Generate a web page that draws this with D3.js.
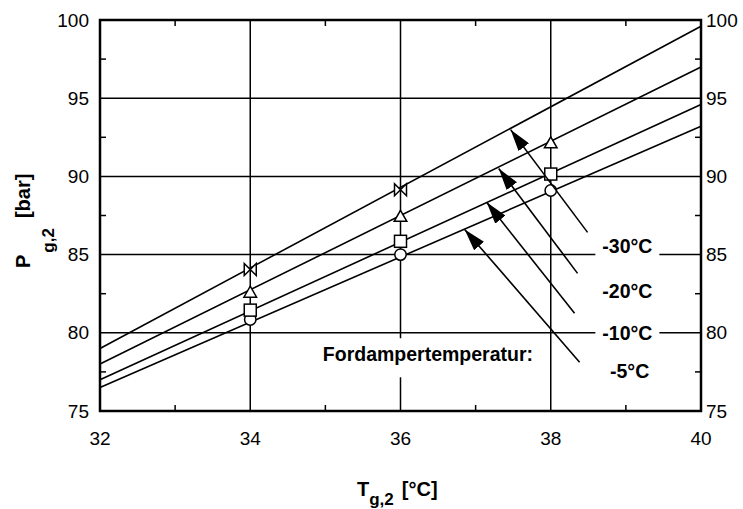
<!DOCTYPE html>
<html>
<head>
<meta charset="utf-8">
<script src="https://cdn.jsdelivr.net/npm/d3@7"></script>
<style>
  html, body { margin: 0; padding: 0; background: #fff; }
  svg { display: block; font-family: "Liberation Sans", Arial, sans-serif; }
</style>
</head>
<body>
<svg id="chart" width="743" height="509"></svg>
<script>
// ---------------- data ----------------
const lineX = [32, 40];
const seriesNames = ["-30°C", "-20°C", "-10°C", "-5°C"];
const lineM30 = [79.0, 99.6];
const lineM20 = [78.0, 97.0];
const lineM10 = [77.0, 94.6];
const lineM5  = [76.5, 93.2];

const markX = [34, 36, 38];
const bowtieY   = [84.05, 89.15, null];
const triangleY = [82.6, 87.45, 92.15];
const squareY   = [81.45, 85.85, 90.15];
const circleY   = [80.85, 85.0, 89.1];

// arrows: start and tip in data units
const arrowStartX = [38.49, 38.357, 38.317, 38.384];
const arrowStartY = [86.42, 83.80, 81.25, 78.12];
const arrowTipX   = [37.466, 37.307, 37.147, 36.854];
const arrowTipY   = [92.99, 90.50, 88.34, 86.61];
// label anchor (center x, baseline y) in data units
const labelX = [39.02, 39.02, 39.02, 39.05];
const labelY = [85.10, 82.20, 79.52, 77.10];

const noteText = "Fordampertemperatur:";
const noteX = 34.966, noteY = 78.18;

const xTicks = [32, 34, 36, 38, 40];
const xMinor = [33, 35, 37, 39];
const yTicks = [75, 80, 85, 90, 95, 100];
const yMinor = [77.5, 82.5, 87.5, 92.5, 97.5];
const xGrid = [34, 36, 38];
const yGrid = [80, 85, 90, 95];

// ---------------- layout ----------------
const svg = d3.select("#chart");
const W = 743, H = 509;
const m = {left: 100, right: 42, top: 20, bottom: 98};
const x = d3.scaleLinear().domain([32, 40]).range([m.left, W - m.right]);
const y = d3.scaleLinear().domain([75, 100]).range([H - m.bottom, m.top]);
const x0 = x.range()[0], x1 = x.range()[1], y0 = y.range()[0], y1 = y.range()[1];

// grid
const grid = svg.append("g").attr("stroke", "#000").attr("stroke-width", 1.5);
grid.selectAll("line.gx").data(xGrid).join("line")
  .attr("x1", d => x(d)).attr("x2", d => x(d)).attr("y1", y0).attr("y2", y1);
grid.selectAll("line.gy").data(yGrid).join("line")
  .attr("y1", d => y(d)).attr("y2", d => y(d)).attr("x1", x0).attr("x2", x1);

// minor ticks
const tl = 6;
const mt = svg.append("g").attr("stroke", "#000").attr("stroke-width", 1.5);
xMinor.forEach(v => {
  mt.append("line").attr("x1", x(v)).attr("x2", x(v)).attr("y1", y0).attr("y2", y0 - tl);
  mt.append("line").attr("x1", x(v)).attr("x2", x(v)).attr("y1", y1).attr("y2", y1 + tl);
});
yMinor.forEach(v => {
  mt.append("line").attr("y1", y(v)).attr("y2", y(v)).attr("x1", x0).attr("x2", x0 + tl);
  mt.append("line").attr("y1", y(v)).attr("y2", y(v)).attr("x1", x1).attr("x2", x1 - tl);
});

// data lines
const series = [lineM30, lineM20, lineM10, lineM5];
const lineGen = d3.line().x((d, i) => x(lineX[i])).y(d => y(d));
svg.append("g").selectAll("path").data(series).join("path")
  .attr("d", d => lineGen(d)).attr("fill", "none").attr("stroke", "#000").attr("stroke-width", 1.6);

// markers
const mk = svg.append("g").attr("stroke", "#000").attr("stroke-width", 1.5).attr("fill", "#fff");
markX.forEach((xv, i) => {
  if (circleY[i] != null) mk.append("circle").attr("cx", x(xv)).attr("cy", y(circleY[i])).attr("r", 5.7);
});
markX.forEach((xv, i) => {
  if (squareY[i] != null) mk.append("rect").attr("x", x(xv) - 6).attr("y", y(squareY[i]) - 6).attr("width", 12).attr("height", 12);
});
markX.forEach((xv, i) => {
  if (triangleY[i] != null) {
    const cx = x(xv), cy = y(triangleY[i]);
    mk.append("path").attr("d", `M${cx},${cy - 6}L${cx + 6.3},${cy + 5}L${cx - 6.3},${cy + 5}Z`);
  }
});
markX.forEach((xv, i) => {
  if (bowtieY[i] != null) {
    const cx = x(xv), cy = y(bowtieY[i]);
    mk.append("path").attr("d", `M${cx - 6},${cy - 6}L${cx},${cy}L${cx - 6},${cy + 6}Z M${cx + 6},${cy - 6}L${cx},${cy}L${cx + 6},${cy + 6}Z`);
  }
});

// arrows
svg.append("defs").append("marker")
  .attr("id", "ah").attr("viewBox", "0 0 22 13").attr("refX", 22).attr("refY", 6.5)
  .attr("markerWidth", 22).attr("markerHeight", 13).attr("markerUnits", "userSpaceOnUse")
  .attr("orient", "auto")
  .append("path").attr("d", "M0,0L22,6.5L0,13Z").attr("fill", "#000");
const ag = svg.append("g");
arrowStartX.forEach((v, i) => {
  ag.append("line")
    .attr("x1", x(v)).attr("y1", y(arrowStartY[i]))
    .attr("x2", x(arrowTipX[i])).attr("y2", y(arrowTipY[i]))
    .attr("stroke", "#000").attr("stroke-width", 1.6).attr("marker-end", "url(#ah)");
});

// labels with white background
const lg = svg.append("g");
seriesNames.forEach((t, i) => {
  const cx = x(labelX[i]), by = y(labelY[i]);
  lg.append("rect").attr("x", cx - 32).attr("y", by - 17).attr("width", 64).attr("height", 22).attr("fill", "#fff");
  lg.append("text").attr("x", cx).attr("y", by).attr("text-anchor", "middle")
    .attr("font-size", 19.5).attr("font-weight", "bold").text(t);
});
{
  const tx = x(noteX), ty = y(noteY);
  const t = svg.append("text").attr("x", tx).attr("y", ty).attr("font-size", 19.5).attr("font-weight", "bold").text(noteText);
  const bb = t.node().getBBox();
  svg.insert("rect", () => t.node()).attr("x", bb.x - 4).attr("y", ty - 23).attr("width", bb.width + 8).attr("height", 39).attr("fill", "#fff");
}

// frame
svg.append("rect").attr("x", x0).attr("y", y1).attr("width", x1 - x0).attr("height", y0 - y1)
  .attr("fill", "none").attr("stroke", "#000").attr("stroke-width", 2.5);

// tick labels
const tg = svg.append("g").attr("font-size", 19).attr("fill", "#000");
yTicks.forEach(v => {
  tg.append("text").attr("x", x0 - 11).attr("y", y(v)).attr("dy", "0.35em").attr("text-anchor", "end").text(v);
  tg.append("text").attr("x", x1 + 5).attr("y", y(v)).attr("dy", "0.35em").attr("text-anchor", "start").text(v);
});
xTicks.forEach(v => {
  tg.append("text").attr("x", x(v)).attr("y", 445).attr("text-anchor", "middle").text(v);
});

// axis titles
const xt = svg.append("text").attr("x", 357).attr("y", 496).attr("font-weight", "bold").attr("font-size", 20);
xt.append("tspan").text("T");
xt.append("tspan").attr("font-size", 17).attr("dy", 9).text("g,2");
xt.append("tspan").attr("dy", -9).attr("dx", 8).text("[°C]");

const yt = svg.append("text").attr("transform", "translate(30,268) rotate(-90)")
  .attr("font-weight", "bold").attr("font-size", 20);
yt.append("tspan").text("P");
yt.append("tspan").attr("font-size", 17).attr("dy", 24).attr("dx", 2).text("g,2");
yt.append("tspan").attr("dy", -24).attr("dx", 10).text("[bar]");
</script>
</body>
</html>
